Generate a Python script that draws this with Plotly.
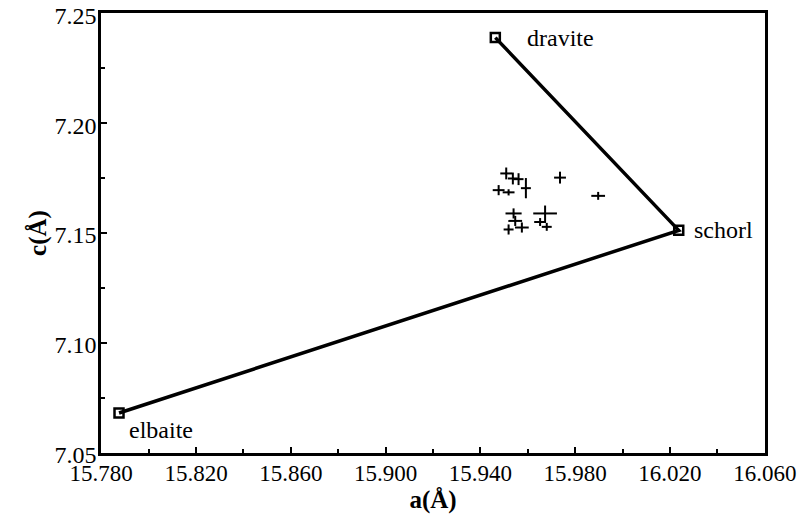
import plotly.graph_objects as go

# End-member compositions (a, c in Å)
end_names = ["dravite", "schorl", "elbaite"]
end_a = [15.9463, 16.0237, 15.7875]
end_c = [7.2389, 7.1512, 7.0681]

# Measured samples (a, c) with uncertainties
sample_a = [15.9509, 15.9537, 15.9561, 15.9592, 15.9477, 15.9519, 15.9540, 15.9547,
            15.9519, 15.9575, 15.9673, 15.9652, 15.9680, 15.9736, 15.9897]
sample_c = [7.1771, 7.1748, 7.1745, 7.1704, 7.1695, 7.1685, 7.1589, 7.1555,
            7.1516, 7.1525, 7.1589, 7.1550, 7.1528, 7.1752, 7.1669]
sample_da = [0.0025, 0.0021, 0.0021, 0.0021, 0.0025, 0.0025, 0.0034, 0.0029,
             0.0021, 0.0029, 0.0050, 0.0025, 0.0021, 0.0025, 0.0029]
sample_dc = [0.0027, 0.0027, 0.0027, 0.0046, 0.0023, 0.0014, 0.0023, 0.0023,
             0.0023, 0.0023, 0.0036, 0.0018, 0.0018, 0.0027, 0.0018]

x_range = [15.7799, 16.0601]
y_range = [7.0499, 7.2501]
x_ticks = [15.780, 15.820, 15.860, 15.900, 15.940, 15.980, 16.020, 16.060]
x_ticklabels = ["15.780", "15.820", "15.860", "15.900", "15.940", "15.980", "16.020", "16.060"]
y_ticks = [7.05, 7.10, 7.15, 7.20, 7.25]
y_ticklabels = ["7.05", "7.10", "7.15", "7.20", "7.25"]

FONT = "Liberation Serif"

fig = go.Figure()

fig.add_trace(go.Scatter(
    x=end_a, y=end_c, mode="lines+markers",
    line=dict(color="black", width=3.5),
    marker=dict(symbol="square-open", size=9, color="black", line=dict(width=2.5)),
    showlegend=False, hoverinfo="skip",
))

fig.add_trace(go.Scatter(
    x=sample_a, y=sample_c, mode="markers",
    marker=dict(size=2, color="black"),
    error_x=dict(type="data", array=sample_da, color="black", thickness=2, width=0),
    error_y=dict(type="data", array=sample_dc, color="black", thickness=2, width=0),
    showlegend=False, hoverinfo="skip",
))

label_shift = {"dravite": (30, 0, "left", "middle"),
               "schorl": (13, 0, "left", "middle"),
               "elbaite": (8, -17, "left", "middle")}
for name, a, c in zip(end_names, end_a, end_c):
    xs, ys, xa, ya = label_shift[name]
    fig.add_annotation(x=a, y=c, text=name, showarrow=False, xanchor=xa, yanchor=ya,
                       xshift=xs, yshift=ys, font=dict(family=FONT, size=24, color="black"))

axis_common = dict(
    showgrid=False, zeroline=False, showline=True, linecolor="black", linewidth=2.5,
    mirror=True, ticks="inside", tickcolor="black", tickwidth=2, ticklen=6,
    automargin=False, ticklabeloverflow="allow",
)

fig.update_xaxes(
    range=x_range, tickmode="array", tickvals=x_ticks, ticktext=x_ticklabels,
    tickfont=dict(family=FONT, size=23, color="black"),
    minor=dict(dtick=0.02, tick0=15.78, ticks="inside", ticklen=4, tickwidth=2, tickcolor="black"),
    title=dict(text="<b>a(Å)</b>", font=dict(family=FONT, size=25, color="black"), standoff=5),
    ticklabelstandoff=-2,
    **axis_common,
)
fig.update_yaxes(
    range=y_range, tickmode="array", tickvals=y_ticks, ticktext=y_ticklabels,
    tickfont=dict(family=FONT, size=24, color="black"),
    minor=dict(dtick=0.025, tick0=7.05, ticks="inside", ticklen=4, tickwidth=2, tickcolor="black"),
    title=dict(text="<b>c(Å)</b>", font=dict(family=FONT, size=25, color="black"), standoff=1),
    ticklabelstandoff=-3, ticklabelshift=2,
    **axis_common,
)

fig.update_layout(
    width=797, height=515,
    margin=dict(l=101, r=32, t=13, b=62),
    paper_bgcolor="white", plot_bgcolor="white",
    font=dict(family=FONT),
)

fig.write_html("out.html")
